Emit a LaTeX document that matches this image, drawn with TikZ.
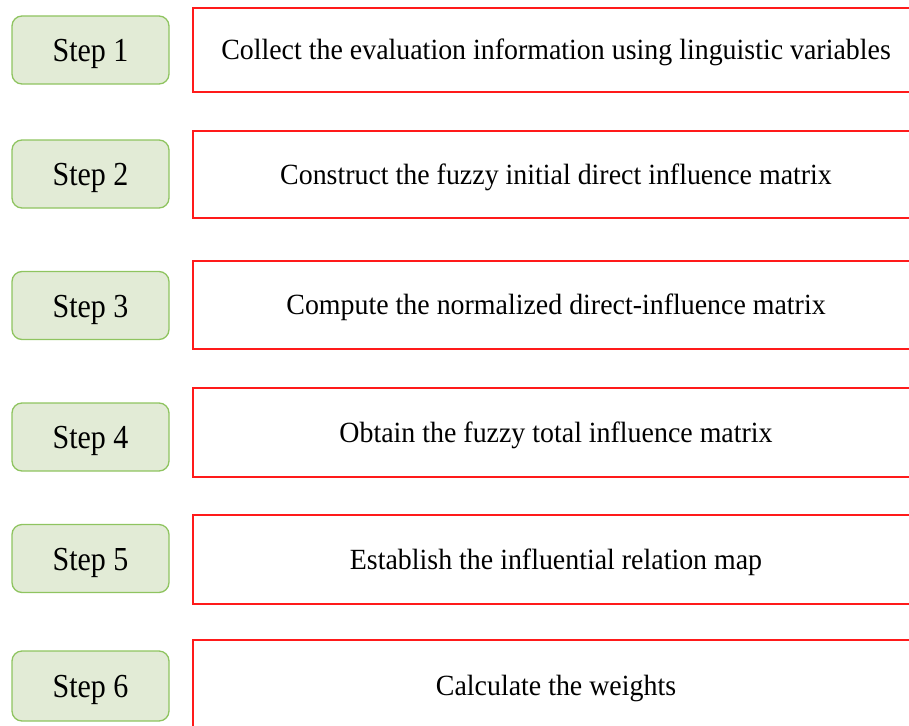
\documentclass[tikz,border=0pt]{standalone}
\usepackage{fontspec}
\setmainfont{Liberation Serif}
\usepackage{xcolor}
\usepackage{graphicx}
\usepackage{tikz}
\usetikzlibrary{positioning}

\definecolor{stepfill}{HTML}{E2EBD6}
\definecolor{stepline}{HTML}{8FC460}
\definecolor{taskline}{HTML}{FF1A1A}

% the labels are a bit taller than wide in the reference
\newcommand{\steplabel}[1]{\scalebox{1}[1.12]{#1}}
\newcommand{\tasklabel}[1]{\scalebox{1}[1.05]{#1}}

\begin{document}
\begin{tikzpicture}[x=1pt,y=-1pt,
  stepbox/.style={draw=stepline,line width=1.3pt,fill=stepfill,rounded corners=10pt,
    minimum width=157pt,minimum height=68pt,inner sep=0pt,outer sep=0pt,
    font=\fontsize{30}{34}\selectfont,text height=23pt,text depth=0pt},
  taskbox/.style={draw=taskline,line width=1.2pt,fill=white,
    minimum width=726pt,inner sep=0pt,outer sep=0pt,
    font=\fontsize{27.9}{34}\selectfont,text height=19.4pt,text depth=0pt},
  every node/.style={align=center}]

    \useasboundingbox (0,0) rectangle (909,725);
    \clip (0,0) rectangle (909,725);

    % steps on the left
    \node[stepbox](step1) at (90.5,50) {\steplabel{Step 1}};
    \node[stepbox](step2) at (90.5,174) {\steplabel{Step 2}};
    \node[stepbox](step3) at (90.5,305.5) {\steplabel{Step 3}};
    \node[stepbox](step4) at (90.5,437) {\steplabel{Step 4}};
    \node[stepbox](step5) at (90.5,558.5) {\steplabel{Step 5}};
    \node[stepbox,minimum height=70pt](step6) at (90.5,686) {\steplabel{Step 6}};

    % what is done in each step
    \node[taskbox,minimum height=84pt](task1) at (556,50) {\tasklabel{Collect the evaluation information using linguistic variables}};
    \node[taskbox,minimum height=87pt](task2) at (556,174.5) {\tasklabel{Construct the fuzzy initial direct influence matrix}};
    \node[taskbox,minimum height=88pt](task3) at (556,305) {\tasklabel{Compute the normalized direct-influence matrix}};
    \node[taskbox,minimum height=89pt](task4) at (556,432.5) {\tasklabel{Obtain the fuzzy total influence matrix}};
    \node[taskbox,minimum height=89pt](task5) at (556,559.5) {\tasklabel{Establish the influential relation map}};
    \node[taskbox,minimum height=92pt](task6) at (556,686) {\tasklabel{Calculate the weights}};
\end{tikzpicture}
\end{document}
